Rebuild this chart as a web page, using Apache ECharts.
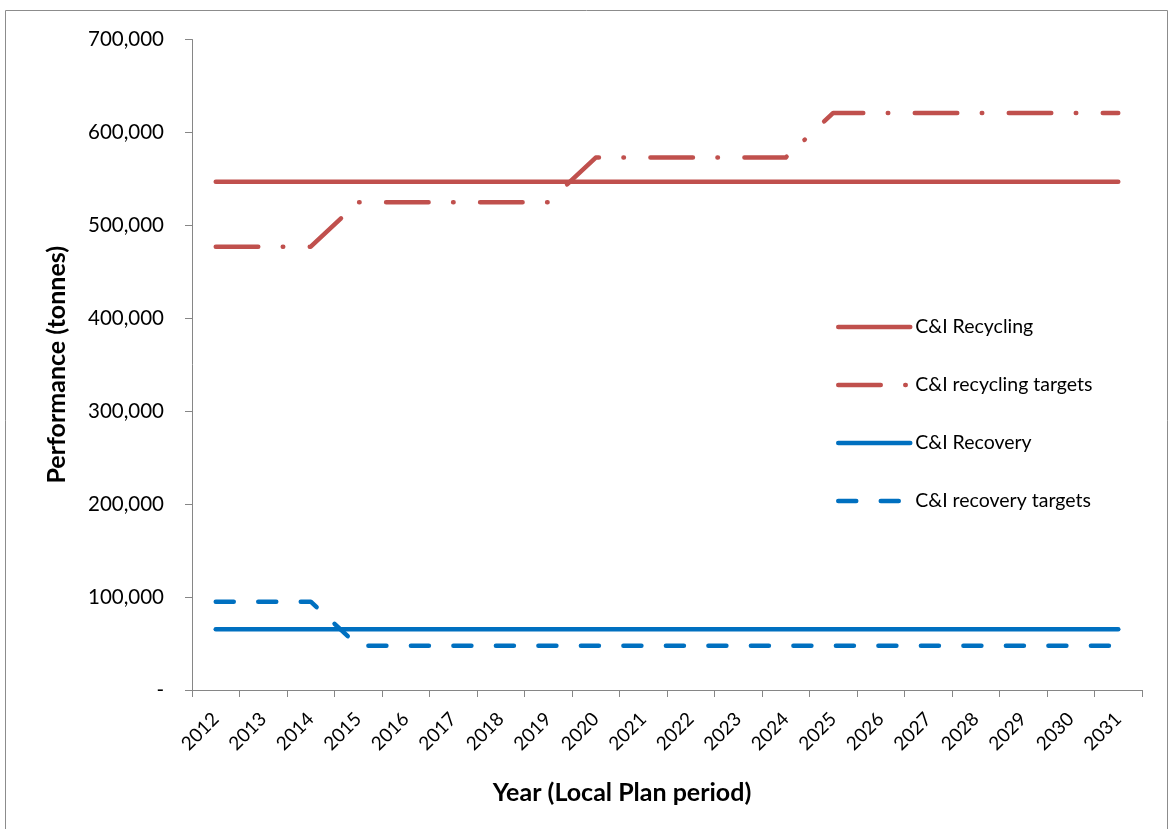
<!DOCTYPE html>
<html>
<head>
<meta charset="utf-8">
<style>
  html, body { margin: 0; padding: 0; background: #fff; }
  #chart { width: 1170px; height: 829px; }
</style>
<script src="https://cdn.jsdelivr.net/npm/echarts@6/dist/echarts.min.js"></script>
</head>
<body>
<div id="chart"></div>
<script>
// Years of the Local Plan period
const years = ['2012','2013','2014','2015','2016','2017','2018','2019','2020','2021',
               '2022','2023','2024','2025','2026','2027','2028','2029','2030','2031'];

// Tonnes per year
const ciRecycling = [547000,547000,547000,547000,547000,547000,547000,547000,547000,547000,
                     547000,547000,547000,547000,547000,547000,547000,547000,547000,547000];
const ciRecyclingTargets = [477000,477000,477000,525000,525000,525000,525000,525000,573000,573000,
                            573000,573000,573000,621000,621000,621000,621000,621000,621000,621000];
const ciRecovery = [65500,65500,65500,65500,65500,65500,65500,65500,65500,65500,
                    65500,65500,65500,65500,65500,65500,65500,65500,65500,65500];
const ciRecoveryTargets = [95000,95000,95000,47500,47500,47500,47500,47500,47500,47500,
                           47500,47500,47500,47500,47500,47500,47500,47500,47500,47500];

const seriesNames = ['C&I Recycling', 'C&I recycling targets', 'C&I Recovery', 'C&I recovery targets'];

const RED = '#C0504D';
const BLUE = '#0070C0';
const FONT = 'Lato';
const LW = 4.5;

const chart = echarts.init(document.getElementById('chart'), null, { renderer: 'canvas' });

function lineSeries(name, data, color, dash) {
  return {
    name: name,
    type: 'line',
    data: data,
    symbol: 'none',
    showSymbol: false,
    animation: false,
    itemStyle: { color: color },
    lineStyle: { color: color, width: LW, type: dash, cap: 'round', join: 'round' }
  };
}

chart.setOption({
  animation: false,
  backgroundColor: '#fff',
  grid: { left: 192, right: 28, top: 39.5, bottom: 139, containLabel: false },
  graphic: [
    {
      type: 'rect',
      shape: { x: 5.5, y: 10.5, width: 1162, height: 830 },
      style: { fill: 'none', stroke: '#8c8c8c', lineWidth: 1 },
      silent: true
    },
    {
      type: 'text',
      x: 622, y: 793,
      style: {
        text: 'Year (Local Plan period)',
        font: 'bold 25px ' + FONT,
        fill: '#000',
        align: 'center',
        verticalAlign: 'middle'
      }
    }
  ],
  legend: {
    orient: 'vertical',
    left: 831,
    top: 312,
    itemWidth: 72,
    itemHeight: 20,
    itemGap: 38,
    itemTextGap: 3,
    data: seriesNames,
    itemStyle: { opacity: 0 },
    lineStyle: { width: LW, cap: 'round' },
    textStyle: { fontFamily: FONT, fontSize: 19.5, color: '#000' }
  },
  xAxis: {
    type: 'category',
    data: years,
    boundaryGap: true,
    axisLine: { lineStyle: { color: '#868686', width: 1 } },
    axisTick: { show: true, length: 7, alignWithLabel: false, lineStyle: { color: '#868686' } },
    axisLabel: {
      interval: 0,
      rotate: 45,
      margin: 26,
      fontFamily: FONT,
      fontSize: 19,
      color: '#000'
    },
    splitLine: { show: false }
  },
  yAxis: {
    type: 'value',
    min: 0,
    max: 700000,
    interval: 100000,
    name: 'Performance (tonnes)',
    nameLocation: 'middle',
    nameGap: 123,
    nameTextStyle: { fontFamily: FONT, fontSize: 25, fontWeight: 'bold', color: '#000' },
    axisLine: { show: true, lineStyle: { color: '#868686', width: 1 } },
    axisTick: { show: true, length: 7, lineStyle: { color: '#868686' } },
    axisLabel: {
      margin: 28,
      fontFamily: FONT,
      fontSize: 20.5,
      color: '#000',
      formatter: function (v) {
        return v === 0 ? '-' : v.toLocaleString('en-GB');
      }
    },
    splitLine: { show: false }
  },
  series: [
    lineSeries(seriesNames[0], ciRecycling, RED, 'solid'),
    lineSeries(seriesNames[1], ciRecyclingTargets, RED, [42.5, 24.5, 0.5, 26.5]),
    lineSeries(seriesNames[2], ciRecovery, BLUE, 'solid'),
    lineSeries(seriesNames[3], ciRecoveryTargets, BLUE, [18, 24.5])
  ]
});
</script>
</body>
</html>
